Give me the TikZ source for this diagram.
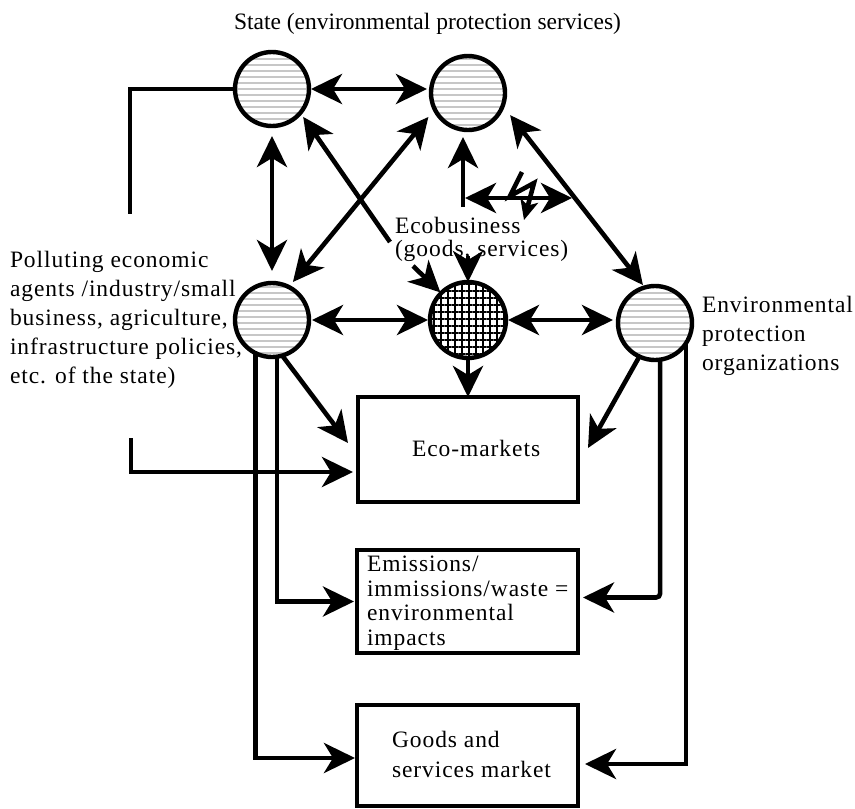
\documentclass[tikz,border=0pt]{standalone}
\usepackage{fontspec}
\setmainfont{Liberation Serif}[LetterSpace=4]
\newfontfamily\titlefont{Liberation Serif}
\usetikzlibrary{arrows.meta,patterns.meta}
\tikzset{
  big/.tip={Stealth[length=31pt,width=30pt,inset=9pt]},
  small/.tip={Stealth[length=20pt,width=18pt,inset=5pt]},
}
\begin{document}
\begin{tikzpicture}[x=1pt,y=-1pt,
  every node/.style={inner sep=0pt,outer sep=0pt},
  actor/.style={circle,draw,line width=4.4pt,minimum size=74pt,
    pattern={Lines[angle=0,distance=6pt,line width=2pt]},pattern color=black!22},
  ecob/.style={circle,draw,line width=4.4pt,minimum size=76pt,
    pattern={Hatch[angle=0,distance=7pt,line width=1.8pt]},pattern color=black},
  market/.style={rectangle,draw,line width=4pt},
  lbl/.style={align=left,font=\fontsize{23.5pt}{29pt}\selectfont},
  conn/.style={line width=4.6pt},
]
\useasboundingbox (0,0) rectangle (855,809);

% actors
\node[actor] (SL) at (272,89) {};
\node[actor] (SR) at (468,93) {};
\node[actor] (P)  at (272,320) {};
\node[ecob]  (E)  at (468,320) {};
\node[actor] (EP) at (655,323) {};

% markets
\node[market,minimum width=220pt,minimum height=105pt] (eco)   at (468,449.5) {};
\node[market,minimum width=221pt,minimum height=103pt] (emis)  at (467.5,601.5) {};
\node[market,minimum width=221pt,minimum height=101pt] (goods) at (467.5,755.5) {};

% texts
\node[lbl,anchor=base west,font=\titlefont\fontsize{23.5pt}{29pt}\selectfont] (tState) at (234,29) {State (environmental protection services)};
\node[lbl,anchor=north west] (tPol) at (10,251) {Polluting economic\\agents /industry/small\\business, agriculture,\\infrastructure policies,\\etc. of the state)};
\node[lbl,anchor=north west] (tEP) at (702,296.5) {Environmental\\protection\\organizations};
\node[lbl,anchor=north west,font=\fontsize{23.5pt}{23pt}\selectfont] (tEco) at (395,217) {Ecobusiness\\(goods, services)};
\node[lbl,anchor=base west] (tEcoM) at (412,456) {Eco-markets};
\node[lbl,anchor=north west,font=\fontsize{23.5pt}{24.5pt}\selectfont] (tEmis) at (367,556) {Emissions/\\immissions/waste =\\environmental\\impacts};
\node[lbl,anchor=north west,font=\fontsize{23.5pt}{30pt}\selectfont] (tGoods) at (392,731) {Goods and\\services market};

% free ends of connectors
\coordinate (LB1) at (130,214);
\coordinate (LB2) at (131,438);
\coordinate (EL)  at (390,242);
\coordinate (ES)  at (413,266);
\coordinate (ET)  at (468,256);
\coordinate (J)   at (463,207);
\coordinate (H1)  at (465,198);
\coordinate (H2)  at (572,198);
\coordinate (Z1)  at (522,172);
\coordinate (Z2)  at (510,196);
\coordinate (Z3)  at (534,183);
\coordinate (Z4)  at (524,220);

% state level
\draw[conn,{big}-{big},shorten <=2pt,shorten >=4pt] (SL.east) -- (SL.east -| SR.west);
\draw[conn] (SL.west) -| (LB1);
\draw[conn,{big}-{big},shorten <=10pt,shorten >=12pt] (SL.south) -- (P.north);
\draw[conn,{big}-{big},shorten <=6.5pt,shorten >=10pt] (P.63) -- (SR.206);
\draw[conn,-{big},shorten >=5pt] (EL) -- (SL.-40);
\draw[conn,{big}-{big},shorten <=12pt,shorten >=3pt] (SR.-20) -- (EP.106);
\draw[conn,-{big},shorten >=7pt] (J) -- (SR.south -| J);
\draw[conn,{big}-{big}] (H1) -- (H2);
\draw[conn,-{small}] (Z1) -- (Z2) -- (Z3) -- (Z4);

% ecobusiness
\draw[conn,-{big},shorten >=1pt] (ES) -- (E.135);
\draw[conn,-{big}] (ET) -- (E.north);
\draw[conn,{big}-{big},shorten <=3pt,shorten >=2pt] (P.east) -- (E.west);
\draw[conn,{big}-{big},shorten <=2pt,shorten >=5pt] (E.east) -- (E.east -| EP.west);
\draw[conn,-{big}] (E.south) -- (eco.north);

% flows into the markets
\draw[conn,-{big}] (P.-74) -- ([xshift=-10pt,yshift=6.5pt]eco.west);
\draw[conn,-{big}] (EP.-115) -- ([xshift=10pt,yshift=1.5pt]eco.east);
\draw[conn,-{big},shorten >=5pt] (LB2) |- ([yshift=-22.5pt]eco.west);
\draw[conn,-{big},shorten >=3pt] (P.-82) |- (emis.west);
\draw[conn,-{big},shorten >=2pt] (P.-117) |- ([yshift=-2.5pt]goods.west);
\draw[conn,-{big},rounded corners=4pt,shorten >=5pt] (EP.-82) |- ([yshift=4pt]emis.east);
\draw[conn,-{big},shorten >=7pt] (EP.-33) |- ([yshift=-8.5pt]goods.east);
\end{tikzpicture}
\end{document}
